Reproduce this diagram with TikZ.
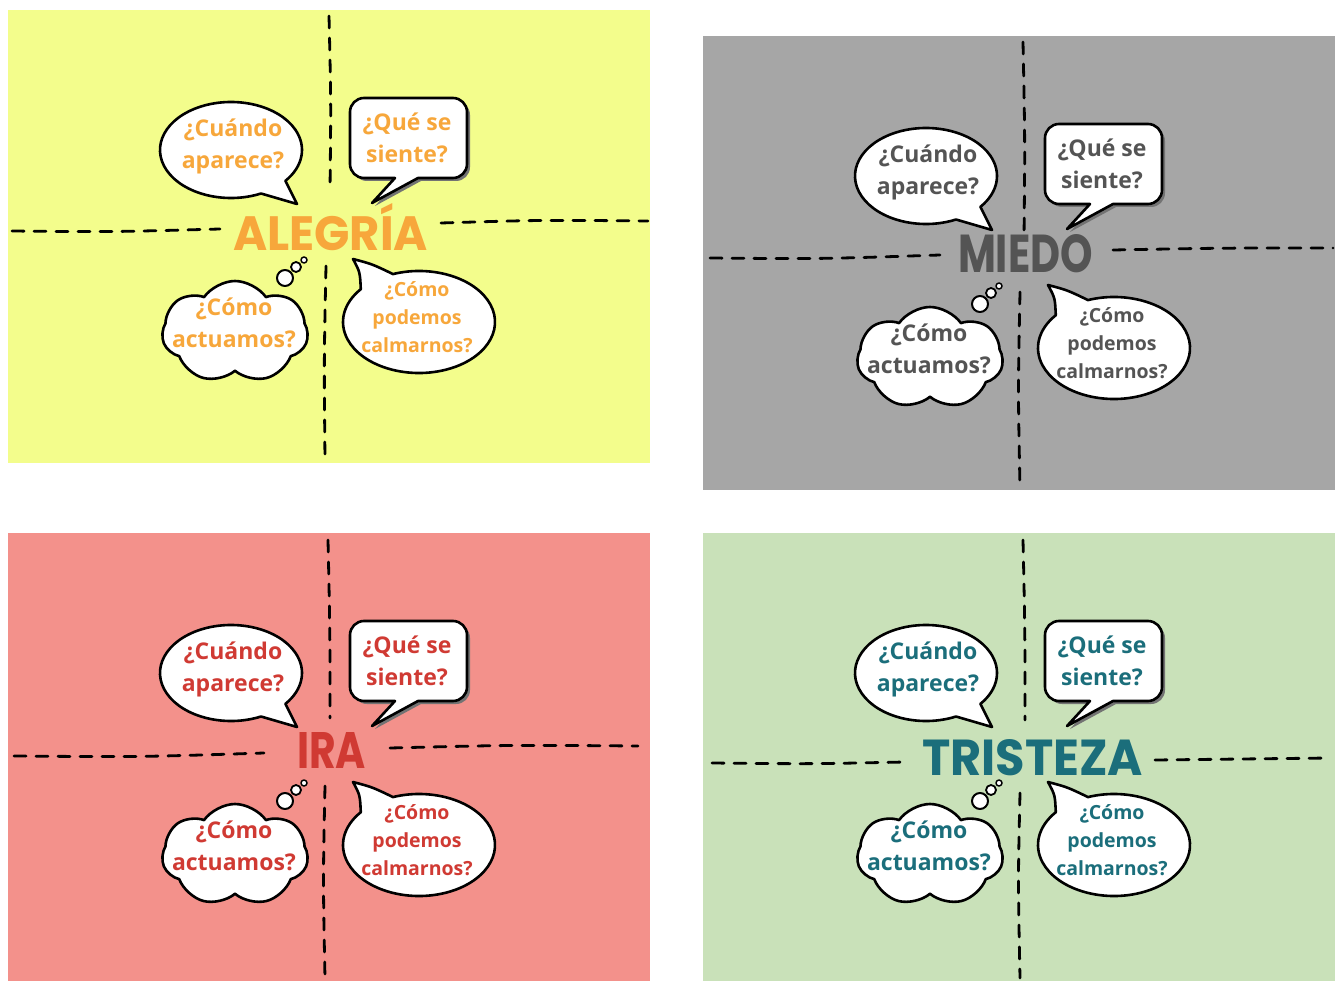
\documentclass[tikz,border=0pt]{standalone}
\usepackage{fontspec}
\usepackage{graphicx}
\usetikzlibrary{shapes.symbols}
\newfontfamily\bfont{Open Sans}
\newfontfamily\tfont{Poppins}
\definecolor{bgA}{HTML}{F3FD8C}
\definecolor{bgB}{HTML}{A6A6A6}
\definecolor{bgC}{HTML}{F3918B}
\definecolor{bgD}{HTML}{C9E1B9}
\definecolor{txA}{HTML}{F7A73B}
\definecolor{txB}{HTML}{545454}
\definecolor{txC}{HTML}{D03A33}
\definecolor{txD}{HTML}{1B6E7B}
\tikzset{
  outline/.style={draw=black, line width=2.6pt, fill=white, line join=round},
  shadowfill/.style={fill=black!55, draw=none},
  dashline/.style={draw=black, line width=2.8pt, line cap=round, dash pattern=on 12pt off 10pt},
  qtext/.style={font=\bfont\bfseries\fontsize{23}{32}\selectfont, align=center, inner sep=0pt},
  qsmall/.style={font=\bfont\bfseries\fontsize{19.5}{28}\selectfont, align=center, inner sep=0pt},
  titletext/.style={font=\tfont\bfseries\fontsize{50}{50}\selectfont, inner sep=0pt},
}
\newcommand\rectpath{(395,178) -- (364,178) arc[start angle=90, end angle=180, radius=14]
  -- (350,112) arc[start angle=180, end angle=270, radius=14]
  -- (453,98) arc[start angle=270, end angle=360, radius=14]
  -- (467,164) arc[start angle=0, end angle=90, radius=14]
  -- (418,178) -- (372,203) -- cycle}
\newcommand\bubbles[2]{%
  % speech ellipse top left
  \path[outline] (231,150) ++(65:71 and 48) arc[start angle=65, end angle=400, x radius=71, y radius=48] -- (297,204) -- cycle;
  % rounded rectangle with shadow
  \begin{scope}[shift={(3,3)}]\path[shadowfill] \rectpath;\end{scope}
  \path[outline] \rectpath;
  % thought cloud
  \node[cloud, cloud puffs=7, cloud puff arc=110, aspect=1.45, minimum width=146pt, minimum height=102pt, outline] (#1-cloud) at (235,332) {};
  \path[outline, line width=2pt] (285,278) circle[radius=8];
  \path[outline, line width=1.8pt] (296,267) circle[radius=5];
  \path[outline, line width=1.5pt] (304,260) circle[radius=3];
  % speech ellipse bottom right
  \path[outline] (419,322) ++(250:76 and 51) arc[start angle=250, end angle=580, x radius=76, y radius=51]
     .. controls (360,272) .. (353,259) .. controls (372,264) .. cycle;
  % texts
  \node[qtext, text=#2] (#1-when) at (233,146) {¿Cuándo\\aparece?};
  \node[qtext, text=#2] (#1-feel) at (407,138) {¿Qué se\\siente?};
  \node[qtext, text=#2] (#1-act) at (234,323) {¿Cómo\\actuamos?};
  \node[qsmall, text=#2] (#1-calm) at (417,317) {¿Cómo\\podemos\\calmarnos?};
}
\begin{document}
\begin{tikzpicture}[x=1pt, y=-1pt]
\useasboundingbox (0,0) rectangle (1335,981);
\fill[white] (0,0) rectangle (1335,981);
% backgrounds
\fill[bgA] (8,10) rectangle (650,463);
\fill[bgB] (703,36) rectangle (1335,490);
\fill[bgC] (8,533) rectangle (650,981);
\fill[bgD] (703,533) rectangle (1335,981);
% panel 1 lines
\draw[dashline] (329,16) .. controls (331,100) .. (330,190);
\draw[dashline] (326,266) .. controls (324,360) .. (325,460);
\draw[dashline] (12,231) .. controls (110,232) .. (220,229);
\draw[dashline] (441,223) .. controls (540,220) .. (648,221);
% panel 2 lines
\draw[dashline] (1023,42) .. controls (1025,140) .. (1024,238);
\draw[dashline] (1020,292) .. controls (1018,390) .. (1020,488);
\draw[dashline] (710,258) .. controls (820,259) .. (940,255);
\draw[dashline] (1113,250) .. controls (1220,248) .. (1333,248);
% panel 3 lines
\draw[dashline] (328,540) .. controls (330,630) .. (330,718);
\draw[dashline] (325,786) .. controls (323,880) .. (325,978);
\draw[dashline] (14,756) .. controls (140,757) .. (264,753);
\draw[dashline] (390,748) .. controls (510,745) .. (638,746);
% panel 4 lines
\draw[dashline] (1023,540) .. controls (1025,630) .. (1025,720);
\draw[dashline] (1020,793) .. controls (1018,880) .. (1020,978);
\draw[dashline] (712,763) .. controls (810,764) .. (905,762);
\draw[dashline] (1155,760) .. controls (1240,759) .. (1330,758);
% bubbles
\bubbles{pa}{txA}
\begin{scope}[shift={(695,26)}]\bubbles{pb}{txB}\end{scope}
\begin{scope}[shift={(0,523)}]\bubbles{pc}{txC}\end{scope}
\begin{scope}[shift={(695,523)}]\bubbles{pd}{txD}\end{scope}
% titles
\node[titletext, text=txA] (alegria) at (330.5,227) {\resizebox{195pt}{47pt}{ALEGRÍA}};
\node[titletext, text=txB] (miedo) at (1025.5,254) {\resizebox{135pt}{38pt}{MIEDO}};
\node[titletext, text=txC] (ira) at (331.5,750) {\resizebox{69pt}{36pt}{IRA}};
\node[titletext, text=txD] (tristeza) at (1032.5,758) {\resizebox{221pt}{36pt}{TRISTEZA}};
\end{tikzpicture}
\end{document}
